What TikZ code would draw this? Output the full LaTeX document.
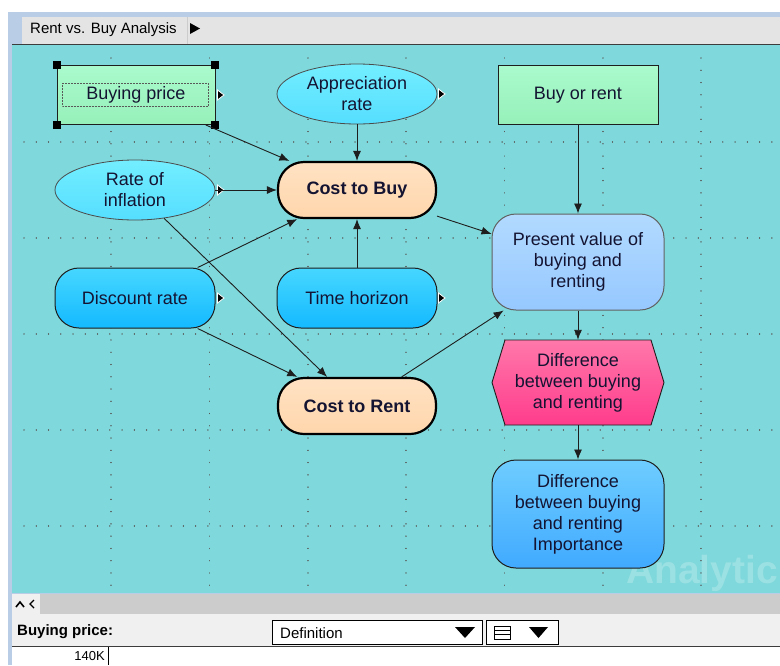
\documentclass[tikz,border=0pt]{standalone}
\usepackage{fontspec}
\setmainfont{Liberation Sans}
\newfontfamily\symfont{DejaVu Sans}
\usetikzlibrary{arrows.meta,shapes.geometric}
\definecolor{canvas}{RGB}{127,216,219}
\definecolor{txt}{RGB}{20,20,50}
\definecolor{gtop}{RGB}{170,250,205}
\definecolor{gbot}{RGB}{150,240,185}
\definecolor{ctop}{RGB}{115,238,255}
\definecolor{cbot}{RGB}{85,222,255}
\definecolor{ptop}{RGB}{255,226,195}
\definecolor{pbot}{RGB}{255,214,172}
\definecolor{lbtop}{RGB}{178,218,255}
\definecolor{lbbot}{RGB}{150,200,255}
\definecolor{btop}{RGB}{70,215,255}
\definecolor{bbot}{RGB}{20,185,255}
\definecolor{htop}{RGB}{255,120,170}
\definecolor{hbot}{RGB}{255,60,140}
\definecolor{itop}{RGB}{110,205,255}
\definecolor{ibot}{RGB}{65,170,255}
\definecolor{edge}{RGB}{30,30,30}
\definecolor{frameblue}{RGB}{185,205,230}
\definecolor{barg}{RGB}{228,228,228}
\definecolor{darkline}{RGB}{60,60,60}
\definecolor{scrollg}{RGB}{204,204,204}
\definecolor{panelg}{RGB}{240,240,240}
\tikzset{
  lbl/.style={font=\fontsize{18}{21}\selectfont, text=txt, align=center, inner sep=0pt},
  inputbox/.style={lbl, draw=edge, line width=1pt, top color=gtop, bottom color=gbot, minimum width=158pt, minimum height=59pt},
  ellnode/.style={lbl, ellipse, draw=edge!80, line width=0.8pt, top color=ctop, bottom color=cbot, minimum width=160pt, minimum height=60pt},
  costnode/.style={lbl, font=\fontsize{18}{21}\selectfont\bfseries, rounded corners=26pt, draw=black, line width=2.2pt, top color=ptop, bottom color=pbot, minimum width=158pt, minimum height=56pt},
  bluenode/.style={lbl, rounded corners=24pt, draw=edge, line width=1pt, top color=btop, bottom color=bbot, minimum width=160pt, minimum height=60pt},
  pvnode/.style={lbl, rounded corners=24pt, draw=edge!70, line width=1pt, top color=lbtop, bottom color=lbbot, minimum width=172pt, minimum height=96pt},
  impnode/.style={lbl, rounded corners=24pt, draw=edge, line width=1pt, top color=itop, bottom color=ibot, minimum width=172pt, minimum height=108pt},
  link/.style={draw=edge, line width=0.9pt, -{Latex[length=10pt,width=8pt]}},
  gridl/.style={draw=gray!70!black, line width=1.3pt, dash pattern=on 0.01pt off 12.25pt, line cap=round},
  handle/.style={fill=black, minimum size=8pt, inner sep=0pt},
  tri/.style={fill=black, draw=white, line width=0.8pt}
}
\begin{document}
\begin{tikzpicture}[x=1pt,y=-1pt]
\useasboundingbox (0,0) rectangle (780,665);
% window frame
\fill[white] (0,0) rectangle (780,665);
\fill[frameblue] (8,12) rectangle (780,665);
\fill[barg] (12,17) rectangle (780,44);
\draw[scrollg] (187,17) -- (187,44);
\fill[frameblue] (12,17) rectangle (22,44);
\fill[barg] (22,44) -- (22,25) to[out=90,in=180] (28,17) -- (40,17) -- (40,44) -- cycle;
\node[anchor=west, font=\fontsize{15}{17}\selectfont, text=black, inner sep=0pt] (title) at (30,30) {Rent vs. Buy Analysis};
\fill[black] (190,23) -- (200,28.5) -- (190,34) -- cycle;
\draw[line width=1.5pt, darkline] (12,44.5) -- (780,44.5);
% canvas
\fill[canvas] (12,45) rectangle (780,593);
\begin{scope}
\clip (12,45) rectangle (780,593);
\foreach \yy in {142,238,334,430,526} \draw[gridl] (24,\yy) -- (780,\yy);
\foreach \xx in {111,209.5,308,406,504.5,603,701} \draw[gridl] (\xx,58) -- (\xx,593);
\node[anchor=base west, font=\fontsize{39}{39}\selectfont\bfseries, text=white, opacity=0.22, inner sep=0pt] (wm) at (626,583) {Analytic};
\end{scope}
% nodes
\node[inputbox] (bp) at (136,95) {Buying price};
\draw[gray!70!black, densely dotted, line width=0.5pt] (62,83) rectangle (208,106);
\foreach \p in {(57,65),(215,65),(57,125),(215,125)} \node[handle] at \p {};
\node[ellnode] (ar) at (357,94) {Appreciation\\rate};
\node[inputbox, minimum width=160pt] (bor) at (578,95) {Buy or rent};
\node[ellnode] (roi) at (135,190) {Rate of\\inflation};
\node[costnode] (ctb) at (357,190) {Cost to Buy};
\node[pvnode] (pv) at (578,262) {Present value of\\buying and\\renting};
\node[bluenode] (dr) at (135,298) {Discount rate};
\node[bluenode] (th) at (357,298) {Time horizon};
\node[lbl, minimum width=172pt, minimum height=85pt] (hex) at (578,382.5) {};
\path[draw=edge, line width=0.9pt, top color=htop, bottom color=hbot] (492,382.5) -- (505,340) -- (651,340) -- (664,382.5) -- (651,425) -- (505,425) -- cycle;
\node[lbl] (hext) at (578,382.5) {Difference\\between buying\\and renting};
\node[costnode] (ctr) at (357,406) {Cost to Rent};
\node[impnode] (imp) at (578,514) {Difference\\between buying\\and renting\\Importance};
% small indicators
\foreach \x/\y in {220/95,441/94,220/190,220/298,441/298} \fill[tri] (\x-2.5,\y-5) -- (\x+4,\y) -- (\x-2.5,\y+5) -- cycle;
% links
\draw[link] (bp) -- (ctb);
\draw[link] (ar) -- (ctb);
\draw[link] (roi) -- (ctb);
\draw[link] (roi) -- (ctr);
\draw[link] (dr) -- (ctb);
\draw[link] (dr) -- (ctr);
\draw[link] (th) -- (ctb);
\draw[link] (ctb) -- (pv);
\draw[link] (ctr) -- (pv);
\draw[link] (bor) -- (pv);
\draw[link] (pv) -- (hex);
\draw[link] (hex) -- (imp);
% bottom panel
\fill[scrollg] (12,594) rectangle (780,614);
\fill[panelg] (12,594) rectangle (40,614);
\draw[black, line width=1.6pt] (16,607) -- (20,602) -- (24,607);
\draw[black, line width=1.4pt] (34,600) -- (30,604) -- (34,608);
\fill[panelg] (12,614) rectangle (780,646);
\node[anchor=west, font=\fontsize{15}{16}\selectfont\bfseries, inner sep=0pt] (bpl) at (17,632) {Buying price:};
\node[draw=black, line width=1pt, fill=white, minimum width=210pt, minimum height=24pt, inner sep=0pt] (defbox) at (377.5,632.5) {};
\node[anchor=west, font=\fontsize{15}{16}\selectfont, inner sep=0pt] (deft) at (280,633) {Definition};
\fill[black] (455,627) -- (475,627) -- (465,638) -- cycle;
\node[draw=black, line width=1pt, fill=white, minimum width=72pt, minimum height=24pt, inner sep=0pt] (vbox) at (522,632.5) {};
\draw[black, line width=0.8pt] (494,626) rectangle (510,639);
\draw[black, line width=0.8pt] (494,630.5) -- (510,630.5) (494,634.5) -- (510,634.5);
\fill[black] (529,627) -- (548,627) -- (538.5,638) -- cycle;
\draw[line width=1pt, darkline] (12,646.5) -- (780,646.5);
\fill[white] (12,647) rectangle (780,665);
\node[anchor=east, font=\fontsize{13}{13}\selectfont, inner sep=0pt] (val) at (105,656.5) {140K};
\draw[black, line width=1pt] (108,647) -- (108,665);
\end{tikzpicture}
\end{document}
